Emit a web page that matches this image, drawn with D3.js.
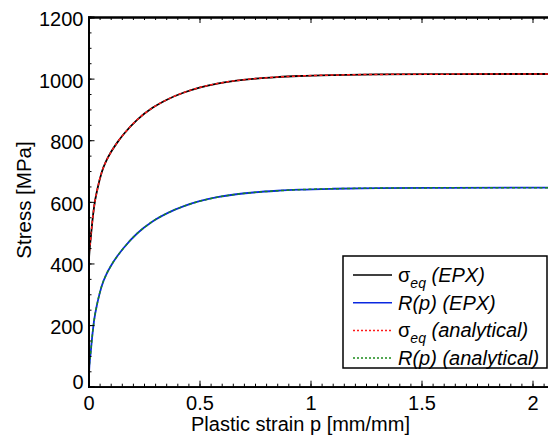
<!DOCTYPE html>
<html>
<head>
<meta charset="utf-8">
<script src="https://cdn.jsdelivr.net/npm/d3@7"></script>
<style>
  body { margin: 0; background: #fff; }
  svg { display: block; font-family: "Liberation Sans", Arial, sans-serif; }
</style>
</head>
<body>
<div class="chart-holder"></div>
<script>
// Plastic strain p [mm/mm] sample points
const strain = [0, 0.002, 0.01, 0.025, 0.04, 0.06, 0.08, 0.1, 0.13, 0.16, 0.22, 0.29, 0.36, 0.43, 0.5, 0.58, 0.65, 0.73, 0.85, 0.95, 1.1, 1.3, 1.6, 1.9, 2.1];

// Stress values [MPa]
const sigmaEPX = [369, 409, 481, 583, 641, 697, 733, 760, 793, 821, 867, 906, 934, 955, 971, 984, 992, 998.5, 1005, 1008.5, 1011.5, 1013.5, 1014.5, 1015, 1015];
const rEPX = [0, 40, 112, 214, 272, 328, 364, 391, 424, 452, 498, 537, 565, 586, 602, 615, 623, 629.5, 636, 639.5, 642.5, 644.5, 645.5, 646, 646];
const sigmaAnalytical = [369, 409, 481, 583, 641, 697, 733, 760, 793, 821, 867, 906, 934, 955, 971, 984, 992, 998.5, 1005, 1008.5, 1011.5, 1013.5, 1014.5, 1015, 1015];
const rAnalytical = [0, 40, 112, 214, 272, 328, 364, 391, 424, 452, 498, 537, 565, 586, 602, 615, 623, 629.5, 636, 639.5, 642.5, 644.5, 645.5, 646, 646];

// Tick values
const xTicks = [0, 0.5, 1, 1.5, 2];
const yTicks = [0, 200, 400, 600, 800, 1000, 1200];

const width = 548;
const height = 440;
const plot = { left: 88.5, top: 17, bottom: 386.7 };

const svg = d3.select('.chart-holder').append('svg')
  .attr('width', width)
  .attr('height', height);

const xScale = d3.scaleLinear()
  .domain([0, 2.1])
  .range([plot.left, plot.left + 2.1 * 222]);

const yScale = d3.scaleLinear()
  .domain([0, 1200])
  .range([plot.bottom, plot.top]);

svg.append('clipPath').attr('id', 'plot-clip')
  .append('rect')
  .attr('x', plot.left)
  .attr('y', plot.top)
  .attr('width', width - plot.left)
  .attr('height', plot.bottom - plot.top);

const lineOf = values => d3.line()
  .x((d, i) => xScale(strain[i]))
  .y(d => yScale(d))
  .curve(d3.curveMonotoneX)(values);

const curves = svg.append('g').attr('clip-path', 'url(#plot-clip)');

curves.append('path')
  .attr('d', lineOf(sigmaEPX))
  .attr('fill', 'none')
  .attr('stroke', '#000')
  .attr('stroke-width', 1.8);

curves.append('path')
  .attr('d', lineOf(rEPX))
  .attr('fill', 'none')
  .attr('stroke', '#0a28e0')
  .attr('stroke-width', 1.8);

curves.append('path')
  .attr('d', lineOf(sigmaAnalytical))
  .attr('fill', 'none')
  .attr('stroke', '#ff1a1a')
  .attr('stroke-width', 1.5)
  .attr('stroke-dasharray', '3,2.5');

curves.append('path')
  .attr('d', lineOf(rAnalytical))
  .attr('fill', 'none')
  .attr('stroke', '#1a8a1a')
  .attr('stroke-width', 1.5)
  .attr('stroke-dasharray', '3,2.5');

// Axes: ticks point inward, minor ticks every 0.05 / 50
const xMinor = d3.range(0, 2.1001, 0.05);
const yMinor = d3.range(0, 1200.1, 50);

function styleAxis(g) {
  g.select('.domain').attr('stroke', '#000').attr('stroke-width', 1.8);
  g.selectAll('.tick line').attr('stroke', '#000').attr('stroke-width', 1);
  g.selectAll('.tick text')
    .attr('fill', '#000')
    .style('font-size', '20px')
    .style('font-family', '"Liberation Sans", Arial, sans-serif');
}

svg.append('g')
  .attr('transform', 'translate(0,' + plot.bottom + ')')
  .call(d3.axisBottom(xScale).tickValues(xMinor).tickSize(-3).tickFormat(''))
  .call(styleAxis);

svg.append('g')
  .attr('transform', 'translate(0,' + plot.bottom + ')')
  .call(d3.axisBottom(xScale).tickValues(xTicks).tickSize(-6).tickPadding(9).tickFormat(d3.format('')))
  .call(styleAxis);

svg.append('g')
  .attr('transform', 'translate(0,' + plot.top + ')')
  .call(d3.axisTop(xScale).tickValues(xMinor).tickSize(-3).tickFormat(''))
  .call(styleAxis);

svg.append('g')
  .attr('transform', 'translate(0,' + plot.top + ')')
  .call(d3.axisTop(xScale).tickValues(xTicks).tickSize(-6).tickFormat(''))
  .call(styleAxis);

svg.append('g')
  .attr('transform', 'translate(' + plot.left + ',0)')
  .call(d3.axisLeft(yScale).tickValues(yMinor).tickSize(-3).tickFormat(''))
  .call(styleAxis);

const yAxis = svg.append('g')
  .attr('transform', 'translate(' + plot.left + ',0)')
  .call(d3.axisLeft(yScale).tickValues(yTicks).tickSize(-6).tickPadding(5).tickFormat(d3.format('d')))
  .call(styleAxis);

yAxis.selectAll('.tick text')
  .attr('dy', d => d === 0 ? '0.08em' : '0.42em');

// Axis titles
svg.append('text')
  .attr('x', plot.left + 1.0 * 222 - 10)
  .attr('y', 431)
  .attr('text-anchor', 'middle')
  .style('font-size', '20px')
  .text('Plastic strain p [mm/mm]');

svg.append('text')
  .attr('transform', 'translate(31,200) rotate(-90)')
  .attr('text-anchor', 'middle')
  .style('font-size', '20.5px')
  .text('Stress [MPa]');

// Legend
const legendItems = [
  { sym: true, label: '(EPX)', color: '#000', dash: null },
  { sym: false, label: 'R(p) (EPX)', color: '#0a28e0', dash: null },
  { sym: true, label: '(analytical)', color: '#ff1a1a', dash: '2,2' },
  { sym: false, label: 'R(p) (analytical)', color: '#1a8a1a', dash: '2,2' }
];

const legend = svg.append('g');

legend.append('rect')
  .attr('x', 343)
  .attr('y', 256)
  .attr('width', 204)
  .attr('height', 112)
  .attr('fill', '#fff')
  .attr('stroke', '#000')
  .attr('stroke-width', 1.5);

legendItems.forEach((item, i) => {
  const y = 275 + i * 27.7;
  legend.append('line')
    .attr('x1', 353)
    .attr('x2', 392)
    .attr('y1', y)
    .attr('y2', y)
    .attr('stroke', item.color)
    .attr('stroke-width', 1.5)
    .attr('stroke-dasharray', item.dash);

  const t = legend.append('text')
    .attr('x', 398)
    .attr('y', y + 7)
    .style('font-size', '20px');

  if (item.sym) {
    t.append('tspan').text('σ');
    t.append('tspan')
      .attr('dy', 6)
      .style('font-size', '14px')
      .style('font-style', 'italic')
      .text('eq');
    t.append('tspan')
      .attr('dy', -6)
      .style('font-style', 'italic')
      .text(' ' + item.label);
  } else {
    t.append('tspan')
      .style('font-style', 'italic')
      .text(item.label);
  }
});
</script>
</body>
</html>
